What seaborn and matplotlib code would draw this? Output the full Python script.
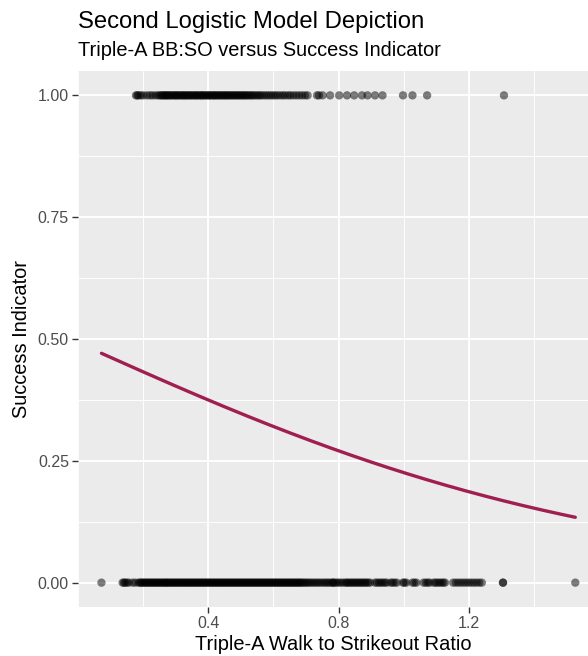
import numpy as np
import pandas as pd
import matplotlib
matplotlib.use("Agg")
import matplotlib.pyplot as plt
from matplotlib.ticker import MultipleLocator
import seaborn as sns

# Triple-A walk-to-strikeout ratios of players who later succeeded (indicator = 1)
bbso_success = [
    0.178, 0.182, 0.186, 0.193, 0.201, 0.212, 0.221, 0.229, 0.238, 0.246,
    0.252, 0.256, 0.260, 0.264, 0.268, 0.271, 0.275, 0.279, 0.283, 0.287,
    0.291, 0.296, 0.299, 0.303, 0.307, 0.311, 0.316, 0.319, 0.324, 0.327,
    0.331, 0.336, 0.339, 0.344, 0.348, 0.352, 0.356, 0.361, 0.364, 0.368,
    0.373, 0.377, 0.381, 0.384, 0.389, 0.393, 0.397, 0.402, 0.405, 0.409,
    0.414, 0.418, 0.421, 0.426, 0.430, 0.434, 0.439, 0.442, 0.447, 0.451,
    0.455, 0.459, 0.463, 0.468, 0.472, 0.476, 0.481, 0.485, 0.489, 0.494,
    0.498, 0.503, 0.507, 0.512, 0.516, 0.521, 0.526, 0.531, 0.536, 0.541,
    0.547, 0.553, 0.558, 0.564, 0.571, 0.578, 0.585, 0.592, 0.599, 0.606,
    0.613, 0.621, 0.629, 0.636, 0.645, 0.652, 0.661, 0.670, 0.679, 0.688,
    0.697, 0.705, 0.734, 0.740, 0.751, 0.774, 0.802, 0.826, 0.848, 0.872,
    0.889, 0.912, 0.935, 0.998, 1.027, 1.072, 1.308,
]

# Ratios of players who did not succeed (indicator = 0)
bbso_failure = [
    0.072, 0.137, 0.141, 0.145, 0.150, 0.156, 0.168, 0.176, 0.186, 0.190,
    0.194, 0.198, 0.202, 0.206, 0.210, 0.214, 0.218, 0.222, 0.226, 0.230,
    0.234, 0.238, 0.242, 0.246, 0.250, 0.254, 0.258, 0.262, 0.266, 0.270,
    0.273, 0.277, 0.281, 0.285, 0.289, 0.293, 0.297, 0.301, 0.305, 0.309,
    0.313, 0.317, 0.321, 0.325, 0.329, 0.333, 0.337, 0.341, 0.345, 0.349,
    0.353, 0.357, 0.361, 0.365, 0.369, 0.373, 0.377, 0.381, 0.385, 0.389,
    0.393, 0.397, 0.401, 0.405, 0.409, 0.413, 0.417, 0.421, 0.425, 0.429,
    0.433, 0.437, 0.441, 0.445, 0.449, 0.453, 0.457, 0.461, 0.465, 0.469,
    0.473, 0.477, 0.481, 0.485, 0.489, 0.493, 0.497, 0.501, 0.505, 0.509,
    0.513, 0.517, 0.521, 0.525, 0.529, 0.533, 0.537, 0.541, 0.545, 0.549,
    0.553, 0.557, 0.561, 0.565, 0.569, 0.573, 0.577, 0.581, 0.585, 0.589,
    0.593, 0.597, 0.601, 0.605, 0.609, 0.613, 0.617, 0.621, 0.625, 0.629,
    0.633, 0.637, 0.641, 0.645, 0.649, 0.653, 0.657, 0.661, 0.665, 0.669,
    0.673, 0.677, 0.681, 0.685, 0.689, 0.694, 0.699, 0.704, 0.709, 0.715,
    0.721, 0.727, 0.733, 0.739, 0.745, 0.752, 0.758, 0.764, 0.770, 0.776,
    0.783, 0.783, 0.789, 0.795, 0.801, 0.808, 0.815, 0.822, 0.826, 0.831,
    0.836, 0.841, 0.846, 0.851, 0.856, 0.861, 0.866, 0.871, 0.876, 0.881,
    0.886, 0.891, 0.897, 0.912, 0.918, 0.924, 0.930, 0.936, 0.942, 0.948,
    0.960, 0.966, 0.972, 0.979, 0.998, 1.002, 1.008, 1.027, 1.033, 1.039,
    1.061, 1.068, 1.074, 1.080, 1.092, 1.098, 1.104, 1.110, 1.116, 1.122,
    1.127, 1.152, 1.160, 1.168, 1.176, 1.184, 1.192, 1.200, 1.208, 1.216,
    1.224, 1.232, 1.240, 1.305, 1.305, 1.527,
]

# Fitted logistic model: logit(p) = b0 + b1 * ratio
model_coefs = {"intercept": -0.031, "slope": -1.201}

points = pd.DataFrame({
    "ratio": bbso_success + bbso_failure,
    "success": [1.0] * len(bbso_success) + [0.0] * len(bbso_failure),
})

grid_x = np.linspace(points["ratio"].min(), points["ratio"].max(), 200)
eta = model_coefs["intercept"] + model_coefs["slope"] * grid_x
curve = pd.DataFrame({"ratio": grid_x, "prob": 1.0 / (1.0 + np.exp(-eta))})

sns.set_theme(style="darkgrid")
plt.rcParams["font.family"] = ["Liberation Sans", "DejaVu Sans"]

fig = plt.figure(figsize=(5.88, 6.56), dpi=100)
ax = fig.add_axes([78 / 588, 1 - 607 / 656, 1 - 78 / 588, (607 - 71) / 656])
ax.set_facecolor("#EBEBEB")
fig.patch.set_facecolor("white")

sns.scatterplot(data=points, x="ratio", y="success", ax=ax, color="black",
                alpha=0.5, s=36, edgecolor="none", zorder=3)
sns.lineplot(data=curve, x="ratio", y="prob", ax=ax, color="#A01F50",
             linewidth=2.4, zorder=4)

ax.set_xlim(0.0, 1.566)
ax.set_ylim(-0.05, 1.05)
ax.xaxis.set_major_locator(MultipleLocator(0.4))
ax.xaxis.set_minor_locator(MultipleLocator(0.2))
ax.yaxis.set_major_locator(MultipleLocator(0.25))
ax.yaxis.set_minor_locator(MultipleLocator(0.125))
ax.set_xticks([0.4, 0.8, 1.2])
ax.set_xticklabels(["0.4", "0.8", "1.2"])
ax.set_yticks([0.0, 0.25, 0.5, 0.75, 1.0])
ax.set_yticklabels(["0.00", "0.25", "0.50", "0.75", "1.00"])

ax.grid(which="major", color="white", linewidth=1.3)
ax.grid(which="minor", color="white", linewidth=0.65)
ax.set_axisbelow(True)
for sp in ax.spines.values():
    sp.set_visible(False)

ax.tick_params(axis="both", which="major", length=4.0, width=1.0,
               color="#333333", labelcolor="#4D4D4D", labelsize=11.5,
               pad=2.5, bottom=True, left=True)
ax.tick_params(axis="both", which="minor", length=0)

ax.set_xlabel("Triple-A Walk to Strikeout Ratio", fontsize=14.4,
              color="black", labelpad=3)
ax.set_ylabel("Success Indicator", fontsize=14.4, color="black", labelpad=5)

fig.text(78 / 588, 1 - 28 / 656, "Second Logistic Model Depiction",
         fontsize=17.2, color="black", ha="left", va="baseline")
fig.text(78 / 588, 1 - 56 / 656, "Triple-A BB:SO versus Success Indicator",
         fontsize=14.4, color="black", ha="left", va="baseline")

fig.savefig("out.png", dpi=100, facecolor="white")
